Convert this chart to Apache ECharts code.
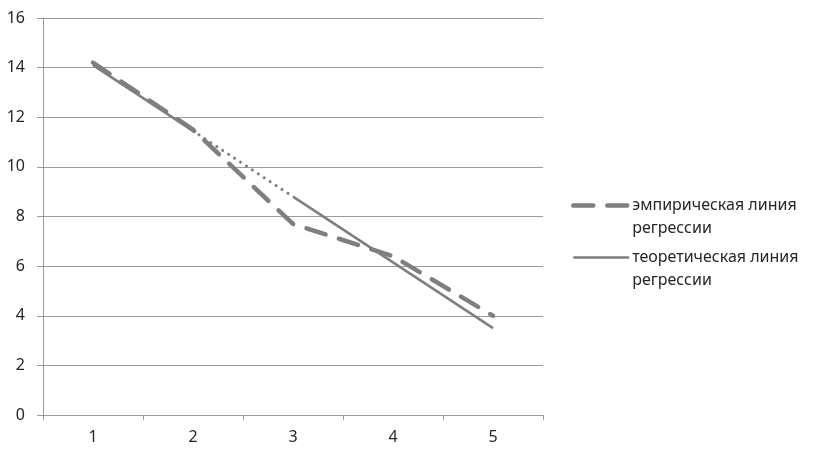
<!DOCTYPE html>
<html>
<head>
<meta charset="utf-8">
<script src="https://cdn.jsdelivr.net/npm/echarts@6/dist/echarts.min.js"></script>
<style>
    html, body { margin: 0; padding: 0; background: #fff; }
    #chart { width: 816px; height: 456px; }
</style>
</head>
<body>
<div id="chart"></div>
<script>
const categories = ["1", "2", "3", "4", "5"];
/** эмпирическая линия регрессии */
const empirical = [14.2, 11.5, 7.7, 6.4, 4.0];
/** теоретическая линия регрессии */
const theoretical = [14.1, 11.45, 8.8, 6.15, 3.5];
const yTicks = { min: 0, max: 16, interval: 2 };

const EMP_NAME = "эмпирическая линия регрессии";
const THEO_NAME = "теоретическая линия регрессии";
const lineColor = "#7f7f7f";

// теоретическая линия: сплошная 1–2, точки 2–3, сплошная 3–5
const theoA = theoretical.map((v, i) => (i <= 1 ? v : "-"));
const theoDot = theoretical.map((v, i) => (i === 1 || i === 2 ? v : "-"));
const theoB = theoretical.map((v, i) => (i >= 2 ? v : "-"));

const axisGray = "#9a9a9a";
const textColor = "#262626";
const fontFamily = "'Noto Sans', sans-serif";

const empLine = { color: lineColor, width: 4.5, type: [20, 14], cap: "round" };
const theoLine = { color: lineColor, width: 2.5 };

const option = {
    animation: false,
    grid: {
        left: 43,
        right: 273,
        top: 18,
        bottom: 41,
    },
    legend: {
        orient: "vertical",
        left: 571,
        top: 171,
        padding: 0,
        itemWidth: 56,
        itemHeight: 14,
        itemGap: -17,
        data: [
            { name: EMP_NAME, itemStyle: { opacity: 0 }, lineStyle: empLine },
            { name: THEO_NAME, itemStyle: { opacity: 0 }, lineStyle: theoLine },
        ],
        formatter: (name) => "\n" + name.replace(" регрессии", "\nрегрессии"),
        textStyle: {
            color: textColor,
            fontSize: 16,
            fontFamily: fontFamily,
            lineHeight: 23,
            padding: [0, 0, 0, -2],
        },
    },
    xAxis: {
        type: "category",
        data: categories,
        boundaryGap: true,
        axisLine: { lineStyle: { color: axisGray, width: 1 } },
        axisTick: { show: true, length: 5, lineStyle: { color: axisGray } },
        axisLabel: {
            color: textColor,
            fontSize: 16,
            fontFamily: fontFamily,
            margin: 14,
        },
    },
    yAxis: {
        type: "value",
        min: yTicks.min,
        max: yTicks.max,
        interval: yTicks.interval,
        axisLine: { show: true, lineStyle: { color: axisGray, width: 1 } },
        axisTick: { show: true, length: 6, lineStyle: { color: axisGray } },
        splitLine: { show: true, lineStyle: { color: axisGray, width: 1 } },
        axisLabel: {
            color: textColor,
            fontSize: 16,
            fontFamily: fontFamily,
            margin: 18,
        },
    },
    series: [
        {
            name: EMP_NAME,
            type: "line",
            data: empirical,
            symbol: "none",
            lineStyle: empLine,
            itemStyle: { color: lineColor },
            z: 3,
        },
        {
            name: THEO_NAME,
            type: "line",
            data: theoA,
            symbol: "none",
            lineStyle: theoLine,
            itemStyle: { color: lineColor },
            z: 2,
        },
        {
            name: THEO_NAME,
            type: "line",
            data: theoDot,
            symbol: "none",
            lineStyle: { color: lineColor, width: 3, type: [0.1, 7], cap: "round" },
            itemStyle: { color: lineColor },
            z: 2,
        },
        {
            name: THEO_NAME,
            type: "line",
            data: theoB,
            symbol: "none",
            lineStyle: theoLine,
            itemStyle: { color: lineColor },
            z: 2,
        },
    ],
};

const chart = echarts.init(document.getElementById("chart"));
chart.setOption(option);
</script>
</body>
</html>
